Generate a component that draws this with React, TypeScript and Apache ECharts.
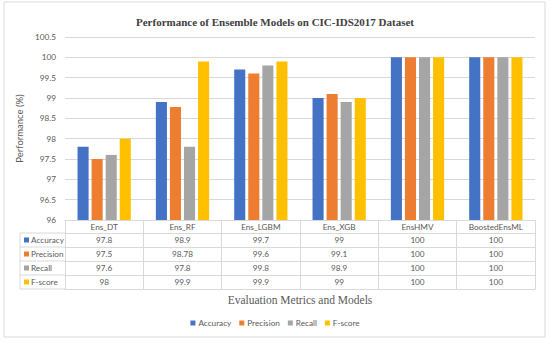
import React, { useEffect, useRef } from "react";
import * as echarts from "echarts";

const categories = ["Ens_DT", "Ens_RF", "Ens_LGBM", "Ens_XGB", "EnsHMV", "BoostedEnsML"];
const seriesNames = ["Accuracy", "Precision", "Recall", "F-score"];
const accuracy = [97.8, 98.9, 99.7, 99, 100, 100];
const precision = [97.5, 98.78, 99.6, 99.1, 100, 100];
const recall = [97.6, 97.8, 99.8, 98.9, 100, 100];
const fscore = [98, 99.9, 99.9, 99, 100, 100];
const colors = ["#4472C4", "#ED7D31", "#A5A5A5", "#FFC000"];

const W = 550;
const H = 343;
const gridLeft = 65;
const gridRight = 535;
const gridTop = 37;
const gridBottom = 220;
const headerH = 13;
const rowH = 14;
const tableLeft = 20;
const labelFont = "Lato, 'Open Sans', sans-serif";
const serif = "'Liberation Serif', 'DejaVu Serif', serif";
const textColor = "#595959";
const lineColor = "#D9D9D9";
const fs = 8.2;

export default function App() {
  const ref = useRef<HTMLDivElement>(null);
  useEffect(() => {
    if (!ref.current) return;
    const chart = echarts.init(ref.current, null, { renderer: "svg" });
    const allValues = [accuracy, precision, recall, fscore];

    const xAxes: any[] = [];
    xAxes.push({
      type: "category",
      data: categories,
      position: "bottom",
      offset: 0,
      name: "Evaluation Metrics and Models",
      nameLocation: "middle",
      nameGap: 74,
      nameTextStyle: { fontFamily: serif, fontSize: 11.5, color: textColor },
      axisLine: { show: true, lineStyle: { color: lineColor, width: 1 } },
      axisTick: { show: true, length: headerH, alignWithLabel: false, interval: 0, lineStyle: { color: lineColor } },
      axisLabel: { interval: 0, margin: 6.5, verticalAlign: "middle", fontFamily: labelFont, fontSize: fs, color: textColor },
    });
    allValues.forEach((vals, k) => {
      xAxes.push({
        type: "category",
        data: categories,
        position: "bottom",
        offset: headerH + k * rowH,
        axisLine: { show: true, lineStyle: { color: lineColor, width: 1 } },
        axisTick: { show: true, length: rowH, alignWithLabel: false, interval: 0, lineStyle: { color: lineColor } },
        axisLabel: {
          interval: 0,
          margin: 7,
          verticalAlign: "middle",
          fontFamily: labelFont,
          fontSize: fs,
          color: textColor,
          formatter: (_v: string, i: number) => String(vals[i]),
        },
        splitLine: { show: false },
      });
    });
    xAxes.push({
      type: "category",
      data: categories,
      position: "bottom",
      offset: headerH + 4 * rowH,
      axisLine: { show: true, lineStyle: { color: lineColor, width: 1 } },
      axisTick: { show: false },
      axisLabel: { show: false },
    });

    const graphics: any[] = [
      {
        type: "rect",
        shape: { x: 4, y: 2, width: 541, height: 335 },
        style: { fill: "none", stroke: lineColor, lineWidth: 1 },
        silent: true,
      },
      {
        type: "line",
        shape: { x1: tableLeft, y1: gridBottom + headerH, x2: tableLeft, y2: gridBottom + headerH + 4 * rowH },
        style: { stroke: lineColor, lineWidth: 1 },
      },
    ];
    for (let k = 0; k <= 4; k++) {
      const y = gridBottom + headerH + k * rowH;
      graphics.push({
        type: "line",
        shape: { x1: tableLeft, y1: y, x2: gridLeft, y2: y },
        style: { stroke: lineColor, lineWidth: 1 },
      });
    }
    seriesNames.forEach((n, k) => {
      const cy = gridBottom + headerH + k * rowH + rowH / 2;
      graphics.push({
        type: "rect",
        shape: { x: 24, y: cy - 2.5, width: 5, height: 5 },
        style: { fill: colors[k] },
      });
      graphics.push({
        type: "text",
        x: 31,
        y: cy,
        style: { text: n, fontFamily: labelFont, fontSize: fs, fill: textColor, verticalAlign: "middle", align: "left" },
      });
    });

    const seriesData = [accuracy, precision, recall, fscore];
    chart.setOption({
      animation: false,
      backgroundColor: "#ffffff",
      title: {
        text: "Performance of Ensemble Models on CIC-IDS2017 Dataset",
        left: "center",
        top: 11,
        textStyle: { fontFamily: serif, fontSize: 11, fontWeight: "bold", color: "#404040" },
      },
      grid: { left: gridLeft, right: W - gridRight, top: gridTop, bottom: H - gridBottom, containLabel: false },
      legend: {
        data: seriesNames,
        top: 314,
        left: "center",
        icon: "rect",
        itemWidth: 5,
        itemHeight: 5,
        itemGap: 8,
        textStyle: { fontFamily: labelFont, fontSize: fs, color: textColor, padding: [0, 0, 0, -2] },
      },
      xAxis: xAxes,
      yAxis: {
        type: "value",
        min: 96,
        max: 100.5,
        interval: 0.5,
        name: "Performance (%)",
        nameLocation: "middle",
        nameGap: 40,
        nameTextStyle: { fontFamily: labelFont, fontSize: 9.5, color: textColor },
        axisLine: { show: false },
        axisTick: { show: false },
        axisLabel: { fontFamily: labelFont, fontSize: fs, color: textColor, margin: 9 },
        splitLine: { lineStyle: { color: lineColor, width: 1 } },
      },
      series: seriesNames.map((n, k) => ({
        name: n,
        type: "bar",
        xAxisIndex: 0,
        data: seriesData[k],
        itemStyle: { color: colors[k] },
        barGap: "27%",
        barCategoryGap: "32%",
      })),
      graphic: graphics,
    });
    return () => chart.dispose();
  }, []);
  return <div ref={ref} style={{ position: "absolute", left: 0, top: 0, width: W, height: H }} />;
}
